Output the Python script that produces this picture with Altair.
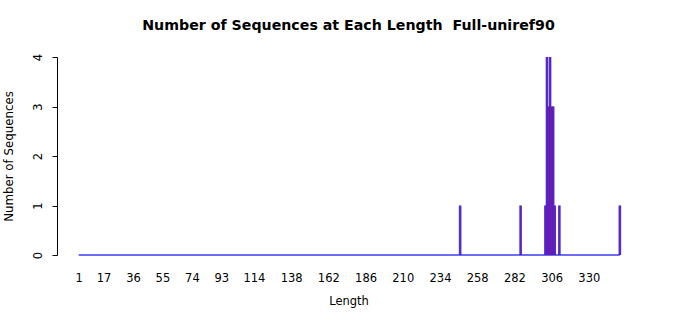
import altair as alt
import pandas as pd

# Data
lengths = [247, 286, 302, 303, 304, 305, 306, 307, 308, 311, 350]
counts = [1, 1, 1, 4, 3, 4, 3, 3, 1, 1, 1]
length_range = [1, 350]
x_ticks = [1, 17, 36, 55, 74, 93, 114, 138, 162, 186, 210, 234, 258, 282, 306, 330]
y_ticks = [0, 1, 2, 3, 4]

df = pd.DataFrame({"length": lengths, "count": counts})
base_df = pd.DataFrame({"length": [length_range[0]], "x2": [length_range[1]], "count": [0]})

FONT = "DejaVu Sans"
xscale = alt.Scale(domain=[-13, 363], nice=False, zero=False)
yscale = alt.Scale(domain=[0, 4], nice=False)

xaxis = alt.Axis(values=x_ticks, title="Length", domain=False, ticks=False, grid=False,
                 labelFontSize=11.5, labelColor="black", labelPadding=17, labelFont=FONT,
                 titleFont=FONT, titleFontSize=11.5, titleFontWeight="normal", titleColor="black",
                 titlePadding=12, labelOverlap=False, labelBound=False, labelFlush=False)
yaxis = alt.Axis(values=y_ticks, title="Number of Sequences", grid=False, domainColor="black",
                 tickColor="black", tickSize=5, labelAngle=270, labelAlign="center",
                 labelBaseline="bottom", labelPadding=9, labelFontSize=11.5, labelColor="black",
                 labelFont=FONT, titleFont=FONT, titleFontSize=11.8, titleFontWeight="normal",
                 titleColor="black", titlePadding=18, labelOverlap=False)

X = alt.X("length:Q", scale=xscale, axis=xaxis)
Y = alt.Y("count:Q", scale=yscale, axis=yaxis)

baseline = alt.Chart(base_df).mark_rule(color="#3c3cf0", strokeWidth=1.5).encode(
    x=X, x2="x2:Q", y=Y,
)

blue = alt.Chart(df).mark_rule(color="#2a2aff", strokeWidth=2.6, opacity=0.95).encode(
    x=X, y=Y, y2=alt.datum(0),
)

red = alt.Chart(df).mark_rule(color="#c80030", strokeWidth=1.2, opacity=0.45).encode(
    x=X, y=Y, y2=alt.datum(0),
)

chart = alt.layer(baseline, blue, red).properties(
    width=583,
    height=198,
    title=alt.TitleParams("Number of Sequences at Each Length\u00a0 Full-uniref90",
                          font=FONT, fontSize=14.2, fontWeight="bold", color="black",
                          anchor="middle", offset=20),
    autosize=alt.AutoSizeParams(type="none"),
    padding={"left": 57, "top": 57, "right": 60, "bottom": 60},
).configure(
    background="white",
    view=alt.ViewConfig(strokeWidth=0, stroke="transparent"),
    axisX=alt.AxisConfig(labelOverlap=False),
)

chart.save("out.html", embed_options={"renderer": "svg", "actions": False})
